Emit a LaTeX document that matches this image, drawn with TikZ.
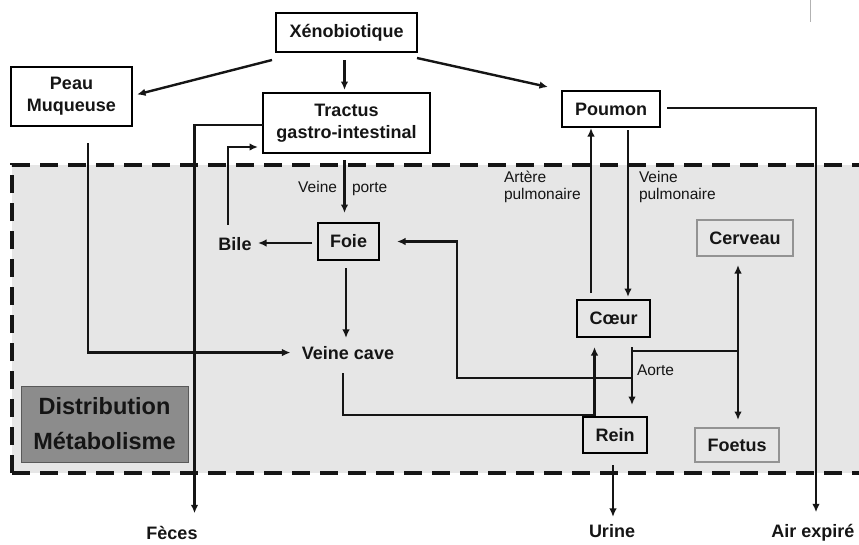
\documentclass[tikz,border=0pt]{standalone}
\usepackage{fontspec}
\setmainfont{Liberation Sans}
\usetikzlibrary{arrows.meta,calc}
\definecolor{bg}{HTML}{E6E6E6}
\definecolor{distfill}{HTML}{8C8C8C}
\definecolor{ink}{HTML}{151515}
\tikzset{
  box/.style={draw=black, line width=2.4pt, outer sep=0pt, inner sep=0pt, align=center,
    font=\bfseries\fontsize{18}{22}\selectfont, text=ink},
  gbox/.style={box, draw=gray!85, line width=1.7pt},
  distbox/.style={fill=distfill, draw=gray!70!black, line width=0.8pt, outer sep=0pt, inner sep=0pt,
    minimum width=167pt, minimum height=76pt, align=center, text=ink,
    font=\bfseries\fontsize{23.5}{35}\selectfont},
  lbl/.style={font=\bfseries\fontsize{18}{22}\selectfont, inner sep=1pt, outer sep=0pt, text=ink, anchor=base},
  small/.style={font=\fontsize{15.5}{17}\selectfont, inner sep=0pt, outer sep=0pt, align=left, text=ink},
  conn/.style={line width=2.4pt, draw=ink},
  arr/.style={conn, -{Latex[length=8.5pt,width=7.5pt]}},
  dashline/.style={line width=4pt, draw=ink, dash pattern=on 18pt off 10pt},
}
\begin{document}
\begin{tikzpicture}[x=1pt,y=-1pt]
\useasboundingbox (0,0) rectangle (859,544);
% distribution zone
\fill[bg] (12,165) rectangle (859,473);
\draw[dashline] (12,473) -- (12,165) -- (859,165);
\draw[dashline] (12,473) -- (859,473);
\draw[gray!60, line width=1pt] (810,0) -- (810,22);

% boxes
\node[box, minimum width=141pt, minimum height=39pt] (xeno) at (346.5,32.5) {Xénobiotique};
\node[box, minimum width=121pt, minimum height=59pt] (peau) at (71.5,96.5) {Peau\\Muqueuse};
\node[box, minimum width=167pt, minimum height=60pt] (tractus) at (346.5,123) {Tractus\\gastro-intestinal};
\node[box, minimum width=98pt, minimum height=36pt] (poumon) at (611,109) {Poumon};
\node[box, minimum width=61pt, minimum height=37pt] (foie) at (348.5,241.5) {Foie};
\node[box, minimum width=73pt, minimum height=37pt] (coeur) at (613.5,318.5) {Cœur};
\node[gbox, minimum width=96pt, minimum height=36pt] (cerveau) at (745,238) {Cerveau};
\node[box, minimum width=64pt, minimum height=36pt] (rein) at (615,435) {Rein};
\node[gbox, minimum width=84pt, minimum height=34pt] (foetus) at (737,445) {Foetus};
\node[distbox] (distrib) at (104.5,424) {Distribution\\Métabolisme};

% plain text nodes
\node[lbl] (bile) at (235,250) {Bile};
\node[lbl] (vcave) at (348,359) {Veine cave};
\node[lbl] (feces) at (172,539) {Fèces};
\node[lbl] (urine) at (612,537) {Urine};
\node[lbl] (air) at (813,537) {Air expiré};

% small labels
\node[small, anchor=base east] (vpa) at (337,192) {Veine};
\node[small, anchor=base west] (vpb) at (352,192) {porte};
\node[small, anchor=north west] (artp) at (504,171) {Artère\\pulmonaire};
\node[small, anchor=north west] (veinp) at (639,171) {Veine\\pulmonaire};
\node[small, anchor=base west] (aorte) at (637,375) {Aorte};

% connectors
\draw[arr] ($(xeno.south west)+(-4,8)$) -- ($(peau.east)+(5,-2)$);
\draw[arr] ($(xeno.south)+(-2,8)$) -- ($(tractus.north)+(-2,-3)$);
\draw[arr] ($(xeno.south east)+(0,6)$) -- ($(poumon.north west)+(-14,-4)$);
\draw[arr, shorten >=10.5pt] ($(poumon.east)+(7,-1)$) -| ($(air.north)+(3,0)$);
\draw[arr, shorten >=11.5pt] ($(tractus.west)+(0,2)$) -| ($(feces.north east)+(-4,0)$);
\draw[arr] ($(bile.north west)+(10.5,-11)$) |- ($(tractus.south west)+(-5,-6)$);
\draw[arr] ($(foie.west)+(-6,1.5)$) -- ($(bile.east |- foie.west)+(5.5,1.5)$);
\draw[arr] ($(tractus.south)+(-2,7)$) -- ($(foie.north)+(-4,-10)$);
\draw[arr] ($(foie.south)+(-2.5,8)$) -- ($(vcave.north)+(-2,-7)$);
\draw[arr] ($(peau.south)+(16.5,17)$) |- ($(vcave.west)+(-10.5,0)$);
\draw[arr] ($(vcave.south)+(-5,13)$) -- ++(0,42) -| ($(coeur.south)+(-19,10)$);
\draw[arr] ($(coeur.north)+(-22.5,-7)$) -- ($(poumon.south)+(-20,1)$);
\draw[arr] ($(poumon.south)+(17,3)$) -- ($(coeur.north)+(14.5,-3)$);
\draw[arr] ($(coeur.south)+(18.5,10)$) -- ($(rein.north)+(17,-12)$);
\coordinate (aj) at ($(coeur.south)+(18.5,14)$);
\coordinate (ab) at ($(cerveau.south |- aj)+(-7,0)$);
\draw[conn] (aj) -- ($(ab)+(1.2,0)$);
\draw[arr] (ab) -- ($(cerveau.south)+(-7,9)$);
\draw[arr] (ab) -- ($(foetus.north)+(1,-8)$);
\draw[arr] ($(coeur.south)+(18.5,41)$) -| ($(foie.east)+(78,0)$) -- ($(foie.east)+(18,0)$);
\draw[arr, shorten >=6pt] ($(rein.south)+(-2,12)$) -- ($(urine.north)+(1,0)$);
\end{tikzpicture}
\end{document}
